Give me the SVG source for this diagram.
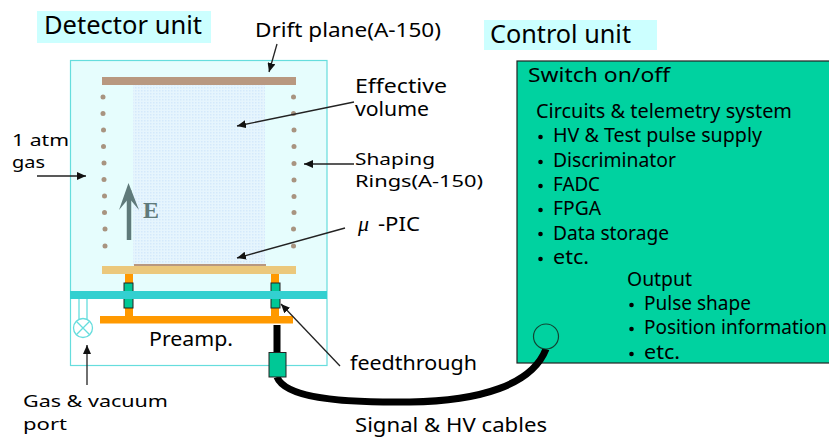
<svg xmlns="http://www.w3.org/2000/svg" width="829" height="437" viewBox="0 0 829 437">
<style>
text{font-family:"Noto Sans","DejaVu Sans",sans-serif;fill:#000;font-size:19.500px}
.big{font-size:25px}
.ctl{font-size:19.500px}
.tight{font-size:17px}
.ring{fill:#a89480}
.lead{stroke:#222;stroke-width:1.300;fill:none;marker-end:url(#ah)}
.leg{fill:#ff9900}
.ft{fill:#00c896;stroke:#222;stroke-width:1}
</style>
<defs>
<marker id="ah" markerUnits="userSpaceOnUse" markerWidth="10" markerHeight="8" refX="9" refY="4" orient="auto"><path d="M0 0L9 4L0 8z" fill="#111"/></marker>
<pattern id="dots" width="3" height="3" patternUnits="userSpaceOnUse"><rect width="3" height="3" fill="#e6f5fd"/><rect width="1.500" height="1.500" fill="#d4e9fb"/></pattern>
</defs>
<rect width="829" height="437" fill="#fff"/>
<g id="detector-label"><rect x="37" y="11" width="174" height="32" fill="#ccffff"/><text class="big" x="44" y="34" textLength="158" lengthAdjust="spacingAndGlyphs">Detector unit</text></g>
<g id="control-label"><rect x="484" y="20" width="173" height="30" fill="#ccffff"/><text class="big" x="490" y="43" textLength="141" lengthAdjust="spacingAndGlyphs">Control unit</text></g>
<g id="detector-unit">
<rect x="70.500" y="60.500" width="256.500" height="234.500" fill="#e6fdfd"/>
<rect x="70.500" y="60.500" width="256.500" height="305" fill="none" stroke="#66dddd" stroke-width="1.200"/>
<rect x="133" y="85" width="132" height="180" fill="url(#dots)"/>
</g>
<g id="drift-plane"><rect x="102" y="77" width="194" height="8" fill="#b89880"/></g>
<g id="rings">
<circle class="ring" cx="103" cy="97" r="2.500"/><circle class="ring" cx="103" cy="113.500" r="2.500"/><circle class="ring" cx="103.500" cy="130" r="2.500"/><circle class="ring" cx="103.500" cy="146.500" r="2.500"/><circle class="ring" cx="104" cy="163" r="2.500"/><circle class="ring" cx="104" cy="179.500" r="2.500"/><circle class="ring" cx="104.500" cy="196" r="2.500"/><circle class="ring" cx="104.500" cy="212.500" r="2.500"/><circle class="ring" cx="105" cy="229" r="2.500"/><circle class="ring" cx="105" cy="246" r="2.500"/>
<circle class="ring" cx="293.500" cy="97" r="2.500"/><circle class="ring" cx="293.500" cy="113.500" r="2.500"/><circle class="ring" cx="294" cy="130" r="2.500"/><circle class="ring" cx="294" cy="146.500" r="2.500"/><circle class="ring" cx="294" cy="163.500" r="2.500"/><circle class="ring" cx="294" cy="180" r="2.500"/><circle class="ring" cx="294" cy="196.500" r="2.500"/><circle class="ring" cx="294" cy="212.500" r="2.500"/><circle class="ring" cx="293.500" cy="229" r="2.500"/><circle class="ring" cx="293.500" cy="246" r="2.500"/>
</g>
<g id="e-field">
<path d="M129 240V190" stroke="#5f7a7a" stroke-width="4.500" fill="none"/>
<path d="M119 210L128.500 183L139 210L129 198z" fill="#5f7a7a"/>
<text x="143" y="218" style="font-family:'Liberation Serif',serif;font-weight:bold;font-size:24px;fill:#5f7a7a">E</text>
</g>
<g id="mu-pic"><rect x="134" y="264" width="132" height="2.500" fill="#b89880"/><rect x="102" y="266" width="194" height="8" fill="#ebc87c"/></g>
<g id="legs">
<rect class="leg" x="125" y="274" width="8" height="42"/><rect class="leg" x="271" y="274" width="8" height="42"/>
</g>
<g id="feedthroughs">
<rect class="ft" x="124" y="283" width="9" height="25"/><rect class="ft" x="271" y="283" width="9" height="25"/>
</g>
<g id="flange"><rect x="70" y="291" width="257" height="8" fill="#33d0d0"/></g>
<g id="preamp"><rect x="100" y="316" width="193" height="7.500" fill="#ff9900"/><text x="149" y="346" textLength="84" lengthAdjust="spacingAndGlyphs">Preamp.</text></g>
<g id="valve" fill="none" stroke="#66dddd" stroke-width="1.300">
<path d="M79 299V319M87 299V319"/><circle cx="83" cy="328" r="9.500" fill="#fff"/><path d="M76.300 321.300L89.700 334.700M76.300 334.700L89.700 321.300"/>
</g>
<g id="control-unit">
<rect x="517" y="61" width="313" height="302" fill="#00d2a0" stroke="#222" stroke-width="1.200"/>
<text x="528" y="82" textLength="142" lengthAdjust="spacingAndGlyphs" class="ctl">Switch on/off</text>
<text x="536" y="118" textLength="256" lengthAdjust="spacingAndGlyphs" class="ctl">Circuits &amp; telemetry system</text>
<text x="553" y="142" textLength="209" lengthAdjust="spacingAndGlyphs" class="ctl">HV &amp; Test pulse supply</text>
<text x="553" y="167" textLength="123" lengthAdjust="spacingAndGlyphs" class="ctl">Discriminator</text>
<text x="553" y="191" textLength="47" lengthAdjust="spacingAndGlyphs" class="ctl">FADC</text>
<text x="553" y="215" textLength="48" lengthAdjust="spacingAndGlyphs" class="ctl">FPGA</text>
<text x="553" y="240" textLength="116" lengthAdjust="spacingAndGlyphs" class="ctl">Data storage</text>
<text x="553" y="264" textLength="36" lengthAdjust="spacingAndGlyphs" class="ctl">etc.</text>
<text x="627" y="286" textLength="65" lengthAdjust="spacingAndGlyphs" class="ctl">Output</text>
<text x="644" y="310" textLength="107" lengthAdjust="spacingAndGlyphs" class="ctl">Pulse shape</text>
<text x="644" y="334" textLength="183" lengthAdjust="spacingAndGlyphs" class="ctl">Position information</text>
<text x="644" y="359" textLength="36" lengthAdjust="spacingAndGlyphs" class="ctl">etc.</text>
<circle cx="540.500" cy="137" r="2.300"/><circle cx="540.500" cy="162" r="2.300"/><circle cx="540.500" cy="186" r="2.300"/><circle cx="540.500" cy="210" r="2.300"/><circle cx="540.500" cy="234" r="2.300"/><circle cx="540.500" cy="259" r="2.300"/>
<circle cx="631.500" cy="305" r="2.300"/><circle cx="631.500" cy="329" r="2.300"/><circle cx="631.500" cy="354" r="2.300"/>
</g>
<g id="cable">
<path d="M277 325V354M277 377C285 397 335 403 410 402C480 401 532 385 546 349" fill="none" stroke="#000" stroke-width="7"/>
<rect x="269" y="352.500" width="17" height="24.500" fill="#00c896" stroke="#222" stroke-width="1"/>
<circle cx="546" cy="336.500" r="12.500" fill="#00d2a0" stroke="#143" stroke-width="1.200"/>
</g>
<g id="connectors">
<path class="lead" d="M277 44L269 72"/>
<path class="lead" d="M354 102L237 126"/>
<path class="lead" d="M354 164L304 164"/>
<path class="lead" d="M37 176L86 176"/>
<path class="lead" d="M345 228L237 258"/>
<path class="lead" d="M340 366L281 304"/>
<path class="lead" d="M87 385V345"/>
</g>
<g id="labels">
<text x="255" y="37" textLength="186" lengthAdjust="spacingAndGlyphs">Drift plane(A-150)</text>
<text x="355" y="93" textLength="92" lengthAdjust="spacingAndGlyphs">Effective</text>
<text x="355" y="116" textLength="74" lengthAdjust="spacingAndGlyphs">volume</text>
<text class="tight" x="355" y="165" textLength="80" lengthAdjust="spacingAndGlyphs">Shaping</text>
<text class="tight" x="355" y="187" textLength="128" lengthAdjust="spacingAndGlyphs">Rings(A-150)</text>
<text class="tight" x="12" y="146" textLength="57" lengthAdjust="spacingAndGlyphs">1 atm</text>
<text class="tight" x="12" y="168" textLength="33" lengthAdjust="spacingAndGlyphs">gas</text>
<text x="358" y="231" style="font-family:'Liberation Serif',serif;font-style:italic;font-size:22px">μ</text>
<text x="378" y="231" textLength="42" lengthAdjust="spacingAndGlyphs">-PIC</text>
<text x="350" y="370" textLength="127" lengthAdjust="spacingAndGlyphs">feedthrough</text>
<text class="tight" x="23" y="407" textLength="145" lengthAdjust="spacingAndGlyphs">Gas &amp; vacuum</text>
<text class="tight" x="23" y="430" textLength="44" lengthAdjust="spacingAndGlyphs">port</text>
<text x="355" y="432" textLength="192" lengthAdjust="spacingAndGlyphs">Signal &amp; HV cables</text>
</g>
</svg>
